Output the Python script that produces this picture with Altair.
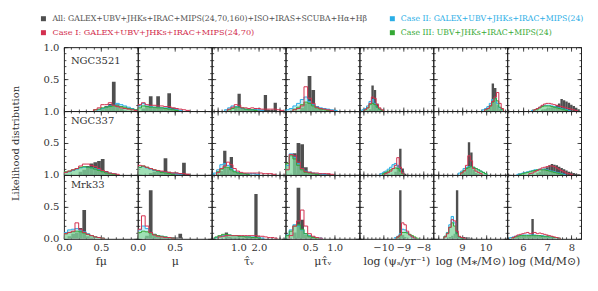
import altair as alt
import numpy as np
import pandas as pd

FONT = "DejaVu Serif"
ROW_NAMES = ["NGC3521", "NGC337", "Mrk33"]
X_TITLES = ["fμ", "μ", "τ̂ᵥ", "μτ̂ᵥ", "log (ψₛ/yr⁻¹)", "log (M⁎/M⊙)", "log (Md/M⊙)"]
X_DOMAINS = [[0, 1], [0, 1], [-0.3, 3.3], [0, 1.5], [-11.2, -7.5], [7.8, 10.9], [5.35, 8.4]]
BIN_W = [0.05, 0.05, 0.16, 0.075, 0.12, 0.1, 0.1]
X_MAJOR = [[0, 0.5, 1], [0, 0.5, 1], [0, 1, 2, 3], [0, 0.5, 1, 1.5], [-11, -10, -9, -8], [8, 9, 10], [6, 7, 8]]
X_LABELED = [[0, 0.5], [0, 0.5], [1, 2], [0.5, 1], [-10, -9, -8], [9, 10], [6, 7, 8]]
X_MINOR_STEP = [0.1, 0.1, 0.2, 0.1, 0.2, 0.2, 0.2]
X_FORMAT = [".1f", ".1f", ".1f", ".1f", "d", "d", "d"]
Y_MAJOR = [0, 0.5, 1]
Y_MINOR_STEP = 0.1

LEGEND_SERIES = ["All", "Case I", "Case II", "Case III"]
LEGEND_TEXT = [
    "All:  GALEX+UBV+JHKs+IRAC+MIPS(24,70,160)+ISO+IRAS+SCUBA+Hα+Hβ",
    "Case  I:  GALEX+UBV+JHKs+IRAC+MIPS(24,70)",
    "Case  II:  GALEX+UBV+JHKs+IRAC+MIPS(24)",
    "Case  III:  UBV+JHKs+IRAC+MIPS(24)",
]
LEGEND_FONT_SIZE = [7.8, 8.2, 7.8, 7.8]
COLORS = {"All": "#4f4f4f", "Case I": "#d3304f", "Case II": "#2aaee6", "Case III": "#34a834"}
FILLS = {"Case II": "#96e2ef", "Case III": "#74cf74"}

# Histogram values: (first bin start, [heights of consecutive bins]) per column
NGC3521_ALL = [
    (0.5, [0.03, 0.08, 0.11, 0.46, 0.11, 0.04, 0.01]),
    (0.05, [0.04, 0.08, 0.23, 0.06, 0.23, 0.05, 0.04, 0.28, 0.05, 0.03]),
    (0.8, [0.05, 0.27, 0.04, 0.03, 0.03, 0.02, 0.03, 0.02, 0.02, 0.25, 0.02, 0.02, 0.13]),
    (0.3, [0.05, 0.12, 0.55, 0.33, 0.08, 0.03]),
    (-10.72, [0.03, 0.40, 0.33, 0.12, 0.04]),
    (10.05, [0.03, 0.10, 0.43, 0.36, 0.10, 0.03]),
    (6.75, [0.02, 0.03, 0.04, 0.05, 0.06, 0.07, 0.09, 0.12, 0.19, 0.17, 0.15, 0.13, 0.10, 0.08, 0.05, 0.03]),
]
NGC3521_CASE1 = [
    (0.4, [0.02, 0.05, 0.10, 0.10, 0.13, 0.09, 0.07, 0.05, 0.04, 0.03, 0.02, 0.01]),
    (0.0, [0.10, 0.13, 0.10, 0.09, 0.09, 0.08, 0.08, 0.07, 0.07, 0.05, 0.04, 0.03, 0.02, 0.01]),
    (0.48, [0.03, 0.06, 0.10, 0.09, 0.05, 0.05, 0.04, 0.05, 0.04, 0.04, 0.03, 0.03, 0.03, 0.03, 0.03, 0.02, 0.01]),
    (0.15, [0.02, 0.04, 0.08, 0.38, 0.20, 0.12, 0.06, 0.04, 0.03, 0.02, 0.01]),
    (-10.96, [0.02, 0.05, 0.12, 0.22, 0.20, 0.10, 0.05, 0.02]),
    (9.95, [0.02, 0.04, 0.08, 0.15, 0.22, 0.29, 0.12, 0.04]),
    (6.45, [0.02, 0.04, 0.06, 0.09, 0.11, 0.12, 0.12, 0.11, 0.10, 0.09, 0.08, 0.07, 0.06, 0.05, 0.04, 0.03, 0.02, 0.01]),
]
NGC3521_CASE2 = [
    (0.45, [0.02, 0.04, 0.06, 0.08, 0.09, 0.12, 0.10, 0.08, 0.06, 0.04, 0.02, 0.01]),
    (0.0, [0.08, 0.12, 0.08, 0.07, 0.06, 0.06, 0.05, 0.05, 0.04, 0.03, 0.02, 0.01]),
    (0.32, [0.02, 0.05, 0.08, 0.07, 0.06, 0.04, 0.03, 0.03, 0.02, 0.02, 0.02, 0.01]),
    (0.0, [0.02, 0.04, 0.08, 0.12, 0.18, 0.22, 0.15, 0.10, 0.07, 0.05, 0.04, 0.03, 0.02, 0.01]),
    (-11.08, [0.02, 0.04, 0.08, 0.15, 0.18, 0.12, 0.06, 0.03, 0.01]),
    (9.85, [0.02, 0.04, 0.07, 0.12, 0.18, 0.20, 0.12, 0.05, 0.02]),
    (6.35, [0.01, 0.02, 0.04, 0.06, 0.08, 0.09, 0.09, 0.09, 0.08, 0.07, 0.06, 0.05, 0.04, 0.03, 0.02, 0.01]),
]
NGC3521_CASE3 = [
    (0.4, [0.02, 0.03, 0.05, 0.06, 0.07, 0.08, 0.08, 0.07, 0.06, 0.04, 0.03, 0.02]),
    (0.0, [0.05, 0.08, 0.07, 0.06, 0.06, 0.05, 0.05, 0.04, 0.03, 0.02, 0.01]),
    (0.48, [0.02, 0.04, 0.06, 0.06, 0.05, 0.03, 0.02, 0.02, 0.01]),
    (0.15, [0.03, 0.06, 0.10, 0.14, 0.12, 0.08, 0.05, 0.03, 0.02, 0.01]),
    (-10.96, [0.02, 0.05, 0.10, 0.12, 0.10, 0.06, 0.03, 0.01]),
    (9.95, [0.02, 0.04, 0.08, 0.14, 0.20, 0.16, 0.06, 0.02]),
    (6.45, [0.02, 0.03, 0.05, 0.07, 0.08, 0.08, 0.08, 0.07, 0.06, 0.05, 0.04, 0.03, 0.02, 0.01]),
]

NGC337_ALL = [
    (0.2, [0.05, 0.08, 0.14, 0.18, 0.20, 0.22, 0.25, 0.06, 0.02]),
    (0.15, [0.03, 0.05, 0.06, 0.06, 0.26, 0.05, 0.04, 0.04, 0.03, 0.19, 0.02]),
    (0.1, [0.06, 0.38, 0.12, 0.28, 0.05, 0.03, 0.02, 0.02, 0.02]),
    (0.15, [0.34, 0.50, 0.48, 0.12, 0.05, 0.03, 0.02, 0.02, 0.02, 0.01]),
    (-9.45, [0.05, 0.15, 0.41, 0.10, 0.02]),
    (9.05, [0.04, 0.12, 0.51, 0.35, 0.08, 0.03, 0.02]),
    (6.55, [0.03, 0.05, 0.08, 0.10, 0.12, 0.15, 0.17, 0.16, 0.15, 0.13, 0.11, 0.09, 0.07, 0.05, 0.04, 0.03, 0.02, 0.01]),
]
NGC337_CASE1 = [
    (0.0, [0.04, 0.06, 0.08, 0.10, 0.14, 0.17, 0.17, 0.15, 0.13, 0.10, 0.07, 0.05, 0.03, 0.02, 0.01]),
    (0.0, [0.15, 0.14, 0.12, 0.10, 0.08, 0.07, 0.06, 0.05, 0.04, 0.03, 0.03, 0.02, 0.02, 0.01]),
    (-0.06, [0.04, 0.10, 0.14, 0.20, 0.16, 0.10, 0.06, 0.04, 0.03, 0.03, 0.03, 0.03, 0.03, 0.03, 0.02, 0.02, 0.02, 0.01]),
    (0.0, [0.08, 0.32, 0.30, 0.20, 0.10, 0.05, 0.04, 0.03, 0.03, 0.02, 0.02, 0.02, 0.01]),
    (-9.93, [0.02, 0.04, 0.06, 0.10, 0.15, 0.27, 0.12, 0.03]),
    (8.95, [0.03, 0.06, 0.15, 0.30, 0.22, 0.10, 0.06, 0.04, 0.02]),
    (6.25, [0.02, 0.03, 0.05, 0.07, 0.09, 0.11, 0.12, 0.13, 0.14, 0.14, 0.13, 0.11, 0.09, 0.07, 0.05, 0.03, 0.02, 0.01]),
]
NGC337_CASE2 = [
    (0.0, [0.04, 0.05, 0.07, 0.09, 0.11, 0.12, 0.12, 0.11, 0.10, 0.08, 0.06, 0.04, 0.03, 0.02]),
    (0.0, [0.12, 0.13, 0.11, 0.09, 0.07, 0.06, 0.05, 0.04, 0.03, 0.02, 0.02, 0.01]),
    (-0.22, [0.03, 0.08, 0.16, 0.18, 0.15, 0.10, 0.06, 0.04, 0.03, 0.02, 0.02, 0.02, 0.02, 0.01]),
    (0.0, [0.15, 0.33, 0.28, 0.18, 0.10, 0.06, 0.04, 0.03, 0.02, 0.02, 0.01]),
    (-10.17, [0.02, 0.04, 0.06, 0.09, 0.12, 0.16, 0.18, 0.15, 0.08, 0.03]),
    (8.85, [0.03, 0.06, 0.10, 0.12, 0.13, 0.13, 0.12, 0.10, 0.08, 0.06, 0.04, 0.02]),
    (5.75, [0.01, 0.02, 0.03, 0.04, 0.05, 0.06, 0.07, 0.08, 0.08, 0.09, 0.09, 0.09, 0.08, 0.07, 0.06, 0.05, 0.04, 0.03, 0.02, 0.01]),
]
NGC337_CASE3 = [
    (0.0, [0.05, 0.06, 0.08, 0.10, 0.12, 0.13, 0.12, 0.11, 0.09, 0.07, 0.05, 0.03, 0.02, 0.01]),
    (0.0, [0.12, 0.14, 0.12, 0.10, 0.08, 0.06, 0.04, 0.03, 0.02, 0.01]),
    (-0.06, [0.05, 0.09, 0.12, 0.12, 0.08, 0.05, 0.03, 0.02, 0.02, 0.01]),
    (0.0, [0.18, 0.30, 0.25, 0.15, 0.08, 0.04, 0.03, 0.02, 0.01]),
    (-10.05, [0.02, 0.04, 0.06, 0.08, 0.10, 0.11, 0.10, 0.06, 0.02]),
    (8.95, [0.04, 0.07, 0.10, 0.12, 0.13, 0.12, 0.10, 0.08, 0.06, 0.04, 0.02]),
    (5.85, [0.01, 0.02, 0.03, 0.04, 0.05, 0.06, 0.07, 0.08, 0.08, 0.08, 0.08, 0.07, 0.06, 0.05, 0.04, 0.03, 0.02, 0.01]),
]

MRK33_ALL = [
    (0.05, [0.04, 0.08, 0.10, 0.17, 0.45, 0.04, 0.02]),
    (0.1, [0.05, 0.76, 0.06, 0.03, 0.02, 0.02, 0.02, 0.02, 0.02, 0.08]),
    (0.34, [0.10, 0.03, 0.02, 0.02, 0.02, 0.02, 0.03, 0.03, 0.03, 0.70, 0.02]),
    (0.15, [0.10, 0.80, 0.30, 0.06, 0.03, 0.02]),
    (-9.33, [0.03, 0.76, 0.06, 0.03]),
    (8.45, [0.03, 0.05, 0.08, 0.76, 0.04, 0.03, 0.03, 0.02, 0.02, 0.01]),
    (5.65, [0.02, 0.03, 0.04, 0.05, 0.05, 0.05, 0.05, 0.31, 0.05, 0.06, 0.06, 0.05, 0.04, 0.03, 0.02, 0.02, 0.01]),
]
MRK33_CASE1 = [
    (0.0, [0.08, 0.10, 0.12, 0.25, 0.15, 0.10, 0.07, 0.05, 0.03, 0.02, 0.01]),
    (0.0, [0.15, 0.36, 0.20, 0.10, 0.06, 0.04, 0.03, 0.02, 0.02, 0.01]),
    (0.02, [0.03, 0.04, 0.05, 0.05, 0.05, 0.05, 0.05, 0.05, 0.05, 0.05, 0.05, 0.05, 0.04, 0.04, 0.03, 0.02, 0.02, 0.01]),
    (0.075, [0.05, 0.20, 0.28, 0.45, 0.20, 0.08, 0.04, 0.02, 0.01]),
    (-9.33, [0.03, 0.06, 0.25, 0.22, 0.12, 0.06, 0.03, 0.01]),
    (8.25, [0.03, 0.08, 0.18, 0.30, 0.28, 0.12, 0.04, 0.02, 0.01]),
    (5.55, [0.02, 0.04, 0.06, 0.07, 0.08, 0.09, 0.10, 0.08, 0.09, 0.10, 0.08, 0.09, 0.08, 0.07, 0.06, 0.05, 0.04, 0.03, 0.02, 0.01]),
]
MRK33_CASE2 = [
    (0.0, [0.10, 0.14, 0.15, 0.16, 0.14, 0.11, 0.08, 0.05, 0.03, 0.02, 0.01]),
    (0.0, [0.14, 0.20, 0.16, 0.10, 0.07, 0.05, 0.04, 0.03, 0.02, 0.01]),
    (-0.14, [0.02, 0.04, 0.05, 0.06, 0.06, 0.05, 0.05, 0.04, 0.04, 0.04, 0.03, 0.03, 0.02, 0.02, 0.01]),
    (0.0, [0.06, 0.14, 0.22, 0.20, 0.14, 0.08, 0.05, 0.03, 0.02, 0.01]),
    (-9.45, [0.02, 0.04, 0.08, 0.15, 0.14, 0.10, 0.06, 0.03, 0.01]),
    (8.25, [0.04, 0.10, 0.22, 0.35, 0.25, 0.08, 0.03, 0.01]),
    (5.45, [0.02, 0.03, 0.04, 0.05, 0.05, 0.06, 0.06, 0.06, 0.06, 0.06, 0.06, 0.05, 0.05, 0.05, 0.04, 0.04, 0.03, 0.03, 0.02, 0.02, 0.01]),
]
MRK33_CASE3 = [
    (0.0, [0.08, 0.10, 0.11, 0.12, 0.11, 0.09, 0.07, 0.05, 0.03, 0.02, 0.01]),
    (0.0, [0.10, 0.12, 0.11, 0.09, 0.07, 0.05, 0.04, 0.03, 0.02, 0.01]),
    (-0.14, [0.03, 0.05, 0.07, 0.07, 0.06, 0.05, 0.05, 0.04, 0.04, 0.03, 0.03, 0.02, 0.02, 0.01]),
    (0.0, [0.05, 0.12, 0.20, 0.22, 0.15, 0.08, 0.04, 0.02, 0.01]),
    (-9.33, [0.03, 0.06, 0.10, 0.10, 0.09, 0.07, 0.05, 0.03, 0.01]),
    (8.25, [0.04, 0.09, 0.18, 0.25, 0.20, 0.08, 0.03, 0.01]),
    (5.55, [0.02, 0.03, 0.04, 0.05, 0.05, 0.05, 0.05, 0.05, 0.05, 0.05, 0.05, 0.05, 0.04, 0.04, 0.04, 0.03, 0.03, 0.02, 0.02, 0.01]),
]

GALAXIES = [
    {"All": NGC3521_ALL, "Case I": NGC3521_CASE1, "Case II": NGC3521_CASE2, "Case III": NGC3521_CASE3},
    {"All": NGC337_ALL, "Case I": NGC337_CASE1, "Case II": NGC337_CASE2, "Case III": NGC337_CASE3},
    {"All": MRK33_ALL, "Case I": MRK33_CASE1, "Case II": MRK33_CASE2, "Case III": MRK33_CASE3},
]

PANEL_W = 74
PANEL_H = 64
# legend / anchor placement relative to the top-left panel (pixels)
LEG_X = [-20.5, -20.5, 329.0, 329.0]
LEG_Y = [-28.5, -14.5, -28.5, -14.5]
LEG_DX = [9.0, 9.0, 8.5, 8.5]
ANCHOR = (-55, -38.5)
NAME_Y = [14, 10, 10]


def minor_ticks(lo, hi, step):
    k0 = int(np.ceil(lo / step - 1e-9))
    k1 = int(np.floor(hi / step + 1e-9))
    return [round(k * step, 4) for k in range(k0, k1 + 1)]


def bars_df(spec, w):
    start, hs = spec
    return pd.DataFrame({"x0": [start + i * w for i in range(len(hs))],
                         "x1": [start + (i + 1) * w for i in range(len(hs))],
                         "h": hs, "b": [0.0] * len(hs)})


def area_df(spec, w):
    start, hs = spec
    xs = [start + i * w for i in range(len(hs))] + [start + len(hs) * w]
    return pd.DataFrame({"x": xs, "h": list(hs) + [0.0]})


def step_df(spec, w):
    start, hs = spec
    xs, ys = [start], [0.0]
    for i, h in enumerate(hs):
        xs += [start + i * w, start + (i + 1) * w]
        ys += [h, h]
    xs.append(start + len(hs) * w)
    ys.append(0.0)
    return pd.DataFrame({"x": xs, "h": ys, "i": list(range(len(xs)))})


def label_expr(vals):
    arr = ",".join(str(v) for v in vals)
    return f"indexof([{arr}], datum.value) >= 0 ? datum.label : ''"


def legend_layers():
    out = []
    for k, s in enumerate(LEGEND_SERIES):
        d = pd.DataFrame({"t": [LEGEND_TEXT[k]]})
        out.append(alt.Chart(d).mark_square(size=25, opacity=1, color=COLORS[s]).encode(
            x=alt.value(LEG_X[k]), y=alt.value(LEG_Y[k])))
        out.append(alt.Chart(d).mark_text(align="left", baseline="middle", font=FONT,
                                          fontSize=LEGEND_FONT_SIZE[k], color=COLORS[s]).encode(
            x=alt.value(LEG_X[k] + LEG_DX[k]), y=alt.value(LEG_Y[k]), text="t:N"))
    # invisible anchor fixing the top-left corner of the figure
    out.append(alt.Chart(pd.DataFrame({"t": [0]})).mark_rule(strokeOpacity=0, strokeWidth=1).encode(
        x=alt.value(ANCHOR[0]), x2=alt.value(ANCHOR[0]), y=alt.value(ANCHOR[1]), y2=alt.value(ANCHOR[1])))
    return out


def make_panel(r, c):
    dom = X_DOMAINS[c]
    w = BIN_W[c]
    xs = alt.Scale(domain=dom, nice=False, zero=False)
    ys = alt.Scale(domain=[0, 1], nice=False, zero=False)
    gal = GALAXIES[r]
    x_none = alt.X("x:Q", scale=xs, axis=None)
    y_none = alt.Y("h:Q", scale=ys, axis=None)

    layers = []
    ax_df = pd.DataFrame({"x": [dom[0]], "h": [0.0]})
    x_minor = minor_ticks(dom[0], dom[1], X_MINOR_STEP[c])
    y_minor = minor_ticks(0, 1, Y_MINOR_STEP)
    for side in ["major_bl", "minor_bl", "major_tr", "minor_tr"]:
        major = side.startswith("major")
        bl = side.endswith("bl")
        size = alt.ExprRef(expr="-4" if major else "-2")
        show_x = major and bl and r == 2
        show_y = major and bl and c == 0
        xkw = dict(orient="bottom" if bl else "top", values=X_MAJOR[c] if major else x_minor,
                   tickSize=size, domain=False, grid=False, labels=show_x, labelFlush=False,
                   labelOverlap=False)
        if show_x:
            xkw.update(format=X_FORMAT[c], labelExpr=label_expr(X_LABELED[c]), labelPadding=8,
                       title=X_TITLES[c], titlePadding=3, titleFontSize=11)
        else:
            xkw.update(title=None)
        ykw = dict(orient="left" if bl else "right", values=Y_MAJOR if major else y_minor,
                   tickSize=size, domain=False, grid=False, labels=show_y, labelFlush=False,
                   labelOverlap=False)
        if show_y:
            ykw.update(format=".1f", labelPadding=9,
                       labelExpr="datum.value > 0.01 ? datum.label : ''" if r < 2 else "datum.label")
        if show_y and r == 1:
            ykw.update(title="Likelihood distribution", titlePadding=23, titleFontSize=10)
        else:
            ykw.update(title=None)
        layers.append(alt.Chart(ax_df).mark_point(opacity=0).encode(
            x=alt.X("x:Q", scale=xs, axis=alt.Axis(**xkw)),
            y=alt.Y("h:Q", scale=ys, axis=alt.Axis(**ykw))))

    layers.append(alt.Chart(bars_df(gal["All"][c], w)).mark_rect(
        color=COLORS["All"], clip=True).encode(
        x=alt.X("x0:Q", scale=xs, axis=None), x2="x1:Q",
        y=alt.Y("h:Q", scale=ys, axis=None), y2="b:Q"))
    for s, op in [("Case II", 0.5), ("Case III", 0.5)]:
        layers.append(alt.Chart(area_df(gal[s][c], w)).mark_area(
            interpolate="step-after", color=FILLS[s], opacity=op, clip=True).encode(
            x=x_none, y=y_none))
    for s in ["Case II", "Case III", "Case I"]:
        layers.append(alt.Chart(step_df(gal[s][c], w)).mark_line(
            color=COLORS[s], strokeWidth=1, clip=True).encode(
            x=x_none, y=y_none, order="i:Q"))
    if c == 0:
        layers.append(alt.Chart(pd.DataFrame({"t": [ROW_NAMES[r]]})).mark_text(
            align="left", baseline="middle", font=FONT, fontSize=10, color="#333333").encode(
            x=alt.value(7), y=alt.value(NAME_Y[r]), text="t:N"))
    if r == 0 and c == 0:
        layers += legend_layers()
    return alt.layer(*layers).resolve_axis(x="independent", y="independent").properties(
        width=PANEL_W, height=PANEL_H)


panels = [make_panel(r, c) for r in range(3) for c in range(7)]
chart = alt.concat(*panels, columns=7, spacing=0, bounds="flush",
                   padding={"left": 0, "top": 0, "right": 0, "bottom": 0}).configure_view(
    stroke="#222222", strokeWidth=1
).configure_axis(
    labelFont=FONT, titleFont=FONT, labelFontSize=10, titleFontSize=11, titleFontWeight="normal",
    labelColor="#333333", titleColor="#333333", tickColor="#222222", tickWidth=0.8,
    minExtent=0, maxExtent=60
)

chart.save("out.html", embed_options={"renderer": "svg", "actions": False})
